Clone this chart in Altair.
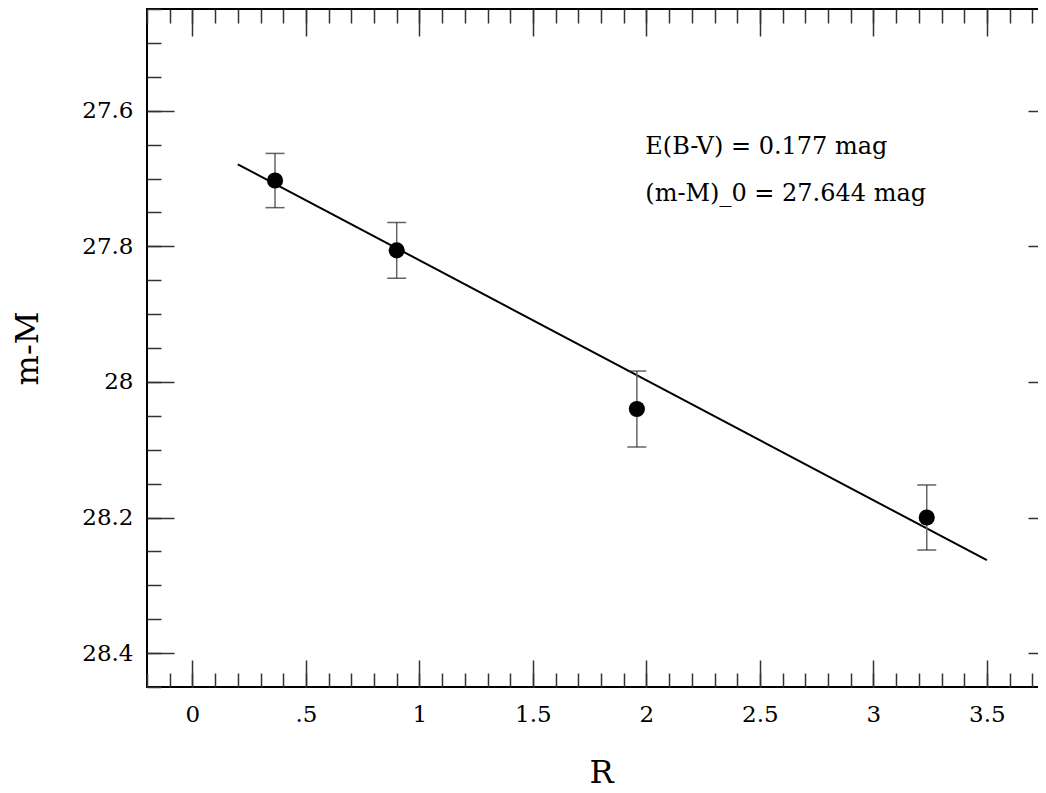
import altair as alt
import pandas as pd

# ---- data ----
R_vals = [0.364, 0.90, 1.958, 3.235]
mM_vals = [27.703, 27.806, 28.040, 28.200]
mM_err = [0.040, 0.041, 0.056, 0.048]

fit_R = [0.2, 3.5]
fit_mM = [27.679, 28.263]

note_R = [1.995, 1.995]
note_mM = [27.654, 27.723]
note_text = ["E(B-V) = 0.177 mag", "(m-M)_0 = 27.644 mag"]

x_major = [0, 0.5, 1, 1.5, 2, 2.5, 3, 3.5]
x_major_labels = ["0", ".5", "1", "1.5", "2", "2.5", "3", "3.5"]
x_minor = [round(-0.2 + 0.1 * i, 2) for i in range(41)]
y_major = [27.6, 27.8, 28.0, 28.2, 28.4]
y_major_labels = ["27.6", "27.8", "28", "28.2", "28.4"]
y_minor = [round(27.45 + 0.05 * i, 2) for i in range(21)]

X_DOMAIN = [-0.2, 3.8]
Y_DOMAIN = [27.45, 28.45]
FONT = "DejaVu Serif"

pts = pd.DataFrame({"R": R_vals, "mM": mM_vals, "err": mM_err})
pts["lo"] = pts["mM"] - pts["err"]
pts["hi"] = pts["mM"] + pts["err"]
caps = pd.concat([
    pd.DataFrame({"R": R_vals, "cy": list(pts["lo"])}),
    pd.DataFrame({"R": R_vals, "cy": list(pts["hi"])}),
])
fit = pd.DataFrame({"R": fit_R, "mM": fit_mM})
notes = pd.DataFrame({"R": note_R, "mM": note_mM, "t": note_text})


def label_expr(values, labels):
    expr = "''"
    for v, l in reversed(list(zip(values, labels))):
        expr = f"(abs(datum.value - {v}) < 1e-6 ? '{l}' : {expr})"
    return expr


TICK_COLOR = "#333"


def axis(orient, values, size, labels=None, title=None, label_pad=0, title_pad=0, title_base=None):
    kw = dict(
        orient=orient, values=values, tickSize=size, offset=-size,
        tickColor=TICK_COLOR, tickWidth=1.5, domain=False, grid=False,
    )
    if labels is None:
        kw.update(labels=False, title=None)
    else:
        kw.update(
            labels=True, labelExpr=label_expr(values, labels), labelFont=FONT,
            labelFontSize=23, labelColor="black", labelPadding=label_pad,
            labelOverlap=False, labelBound=False, labelFlush=False,
        )
        if orient == "bottom":
            kw.update(labelAlign="center", labelBaseline="top")
        if title:
            kw.update(title=title, titleFont=FONT, titleFontSize=32,
                      titleFontWeight="normal", titleColor="black",
                      titlePadding=title_pad)
            if title_base:
                kw.update(titleBaseline=title_base)
        else:
            kw.update(title=None)
    return alt.Axis(**kw)


def X(field, ax):
    return alt.X(field, type="quantitative", scale=alt.Scale(domain=X_DOMAIN, nice=False, zero=False), axis=ax)


def Y(field, ax):
    return alt.Y(field, type="quantitative", scale=alt.Scale(domain=Y_DOMAIN, reverse=True, nice=False, zero=False), axis=ax)


line = alt.Chart(fit).mark_line(color="black", strokeWidth=2).encode(
    x=X("R", axis("bottom", x_major, 27, x_major_labels, "R", 16, 56, "alphabetic")),
    y=Y("mM", axis("left", y_major, 27, y_major_labels, "m-M", 14, 37)),
)

bars = alt.Chart(pts).mark_rule(color="#666", strokeWidth=1.5).encode(
    x=X("R", axis("bottom", x_minor, 14)),
    y=Y("lo", axis("left", y_minor, 14)),
    y2="hi",
)

cap_layer = alt.Chart(caps).mark_tick(color="#222", orient="horizontal", size=19, thickness=1.5).encode(
    x=X("R", axis("top", x_major, 27)),
    y=Y("cy", axis("right", y_major, 27)),
)

dots = alt.Chart(pts).mark_circle(color="black", opacity=1, size=260).encode(
    x=X("R", axis("top", x_minor, 14)),
    y=Y("mM", axis("right", y_minor, 14)),
)

text = alt.Chart(notes).mark_text(align="left", baseline="middle", font=FONT, fontSize=24, color="black").encode(
    x=X("R", None),
    y=Y("mM", None),
    text="t",
)

chart = (
    alt.layer(line, bars, cap_layer, dots, text)
    .resolve_axis(x="independent", y="independent")
    .properties(
        width=908, height=678,
        autosize=alt.AutoSizeParams(type="none"),
        padding={"left": 139, "top": 1, "right": -17, "bottom": 98},
    )
    .configure_view(stroke="black", strokeWidth=2)
)

chart.save("out.html", embed_options={"renderer": "svg", "actions": False})
